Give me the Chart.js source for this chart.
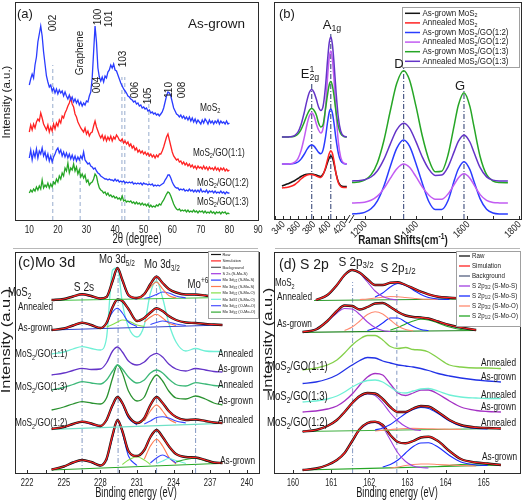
<!DOCTYPE html>
<html>
<head>
<meta charset="utf-8">
<title>MoS2 / GO characterisation</title>
<script src="https://cdn.jsdelivr.net/npm/chart.js@4.4.1/dist/chart.umd.min.js"></script>
<style>
  html, body { margin: 0; padding: 0; background: #fff; }
  #wrap { position: relative; width: 524px; height: 503px; overflow: hidden; background: #fff; }
  #wrap canvas { position: absolute; }
</style>
</head>
<body>
<div id="wrap">
  <canvas id="xrd" width="270" height="250" style="left:0;top:0"></canvas>
  <canvas id="ramanLow" width="262" height="250" style="left:262px;top:0"></canvas>
  <canvas id="ramanHigh" width="262" height="250" style="left:262px;top:0"></canvas>
  <canvas id="mo3d" width="270" height="253" style="left:0;top:250px"></canvas>
  <canvas id="s2p" width="262" height="253" style="left:262px;top:250px"></canvas>
</div>
<script>
// ---------- (a) XRD, intensities every 0.5 deg from 10 to 80 ----------
const xrdStart = 10, xrdStep = 0.5;
const xrdMoS2 = [
  135,141,146,142,155,163,178,186,194,184, 168,156,144,138,133,135,129,132,127,131,
  126,130,127,129,124,128,124,121,125,120, 123,118,121,117,120,115,118,114,117,115,
  119,118,124,128,142,168,194,178,152,143, 139,143,138,144,142,148,150,155,152,156,
  150,149,145,141,137,134,131,129,127,124, 123,121,120,118,119,116,117,114,115,112,
  113,111,112,109,110,107,108,106,107,105, 106,104,106,108,112,118,124,128,127,124,
  118,112,109,106,105,103,105,102,104,101, 103,100,103,99,102,98,101,97,100,98,
  96,100,97,101,99,96,100,97,99,96, 99,97,100,96,99,97,98,96,99,96, 97];
const xrdGO11 = [
  88,95,90,96,92,98,101,99,107,102, 96,93,90,95,88,93,89,96,91,97,
  94,100,97,104,102,107,110,114,117,122, 116,113,106,103,98,95,92,90,88,92,
  86,89,84,87,88,94,99,93,89,85, 82,85,80,84,79,83,80,84,79,83,
  81,85,83,80,79,81,77,79,76,78, 74,76,72,74,70,72,68,70,67,69,
  66,68,65,67,64,66,63,65,62,65, 63,66,66,69,73,78,83,86,80,74,
  68,64,62,60,61,58,59,56,58,55, 57,54,56,53,55,52,54,51,54,52,
  53,51,54,51,53,50,53,51,52,50, 53,50,52,49,52,50,52,49,51,49, 50];
const xrdGO12 = [
  62,70,60,68,63,71,62,69,66,72, 64,68,61,66,59,64,58,63,66,70,
  72,67,70,64,68,63,67,62,66,61, 65,60,64,59,63,60,64,61,68,60,
  58,56,57,54,53,51,52,49,47,46, 44,43,42,41,41,40,41,40,40,39,
  41,39,40,38,39,38,39,37,38,37, 38,37,38,36,37,36,37,36,37,35,
  37,36,36,35,36,35,36,34,35,34, 35,34,35,36,37,40,42,45,45,42,
  38,35,33,32,32,30,31,30,31,29, 30,29,31,29,30,28,30,28,30,28,
  31,28,29,28,30,27,29,28,29,27, 29,27,28,27,29,27,28,26,28,27, 27];
const xrdGO13 = [
  27,30,28,31,29,33,30,34,31,40, 32,35,33,37,32,36,33,38,36,41,
  38,44,41,47,44,52,49,57,47,52, 50,56,49,53,46,50,43,46,42,45,
  38,40,35,37,38,41,46,44,37,32, 30,29,27,28,25,27,24,25,23,24,
  22,23,21,22,20,24,19,20,18,19, 18,19,17,18,16,18,16,17,15,17,
  15,16,14,16,13,15,13,14,13,15, 14,16,15,18,20,23,26,28,27,24,
  20,16,13,11,10,11,9,10,9,10, 8,10,8,9,8,10,8,9,7,9,
  8,9,7,9,7,8,7,9,7,8, 6,8,7,8,6,8,7,8,6,7, 6];
const xrdRefTheta = [18.2, 27.8, 42.4, 43.4, 51.8];
const xrdRefTop = [155, 63, 143, 143, 127];

// ---------- (b) Raman ----------
const ramanLowX = [339,344,348,352,356,360,364,368,372,375,378,381,384,387,390,393,396,399,401,403,405,407,410,413,416,420,424];
const lowAsMoS2 = [33,34.5,35.5,37,38.5,40.5,42.5,44,44.8,45,45,44.6,44,43,42.5,45,50,57,61,63,61.5,56,45,37,33.5,32.5,32.5];
const lowAnMoS2 = [31,31.5,32,33,34.5,37,40,42.5,44,44.5,44.5,44,43,42,41.5,44.5,51,60,65.5,68.3,66,59,45,36,32.5,31.5,31.5];
const lowAsGO12 = [55,55,55,55.2,55.7,57,59.9,64.5,69.8,72.9,74,72.9,69.9,66.6,65.3,69.4,81.3,98,106.7,109.9,106.3,97.1,79.3,65.4,58.3,55.5,55];
const lowAnGO12 = [55,55,55.1,55.5,56.8,60.4,68.2,80.7,95,103.2,106.3,103.3,95.3,89,86,91,110.4,143.9,161.4,168,160.4,141.7,105,76.3,61.9,55.9,55.1];
const lowAsGO13 = [82,82,82.1,82.3,83,85,89.4,96.3,104.2,108.8,110.5,108.8,104.3,96,92,94.5,109.5,125.7,134.2,137.4,133.7,124.5,106.5,92.5,85.4,82.5,82];
const lowAnGO13 = [82,82,82.1,82.4,83.7,87,94.3,105.8,119.1,126.7,129.5,126.7,120,112,108.5,113,132,160.8,176.3,182.1,175.4,158.7,126.3,100.9,88.1,82.8,82.1];
const ramanHighX = [1151,1175,1200,1225,1250,1275,1300,1325,1352,1375,1400,1425,1450,1475,1500,1525,1550,1565,1587,1610,1625,1650,1675,1700,1725,1758];
const highAsGO12 = [5.1,5.4,6.6,10.2,18.2,32.8,52.4,70.6,79,72.8,55.5,35.6,17.5,9.5,9.5,18.5,39.2,50,57.3,49.4,38.3,20.1,9.7,6,5.1,5];
const highAnGO12 = [16,16.2,16.8,18.7,22.9,30.4,40.6,50.1,55,51.7,42.3,31.9,24,19.8,19.7,25.1,35,41.1,45.2,40.8,34.6,24.4,18.6,16.5,16.1,16];
const highAsGO13 = [36.4,36.9,38.8,44.1,56.3,78.3,108,135.5,148.3,138.9,112.8,82.7,59.6,47.3,47.8,64.2,95.2,113.8,126.3,112.6,93.6,62.3,44.3,38,36.5,36.3];
const highAnGO13 = [38.1,38.3,39.3,42,48.3,59.6,74.9,89.1,95.7,90.9,77.4,61.9,49.9,43.6,43.9,52.2,68.1,77.6,84,77,67.3,51.3,42.1,38.9,38.1,38];
const ramanModeX = [378, 403, 1352, 1587];      // E2g, A1g, D, G
const ramanModeTop = [137, 187, 152, 129];

// ---------- (c) Mo 3d XPS ----------
const xc = [224,225,225.75,226.5,227.25,228,228.5,229,229.4,229.8,230.3,231,231.6,232.1,232.6,233.1,233.6,234.2,235,235.8,236.6,237.3,238];
const xcEnds = [224, 238];
const c1Raw = [173,174,176.5,178.7,177,174.5,176,192,205,193,178,175,179,189,196.3,190,184,180.5,178.5,178.5,177.5,176.5,176];
const c1Bg = [172.5, 175.5];
const c1S2s = [173.3,176.3,178.5,176.3,173.6];          // from 225
const c1Mo52 = [175,191,204.7,192,177,174];              // from 228.5
const c1Mo32 = [178,186,191,184,177.5,175];              // from 231.6
const c1Mo32b = [174.5,176,178.5,181,180,177,175];       // from 231.6
const c2Raw = [143,144.5,147.5,150.3,148,145,150,166,173.5,172,164,152,155,160.5,164.7,162,157,153,150.5,150,149,148.5,148];
const c2Bg = [143, 148];
const c2S2s = [144,147,150,147.5,145];                   // from 225
const c2Mo52 = [149,161,164.7,160,151,146.5];            // from 228.5
const c2Mo52O = [146,148.5,151,153,152,148,146.5];       // from 228.5
const c2Mo32 = [151,156,158.7,155,150,147.5];            // from 231.6
const c2Mo32b = [148.5,150.5,152,151,149,147.5];         // from 232.1
const c3An11 = [119,121,124,126.3,124.5,123,135,203,205,170,146,136,148,180,192,175,150,131,122,124.5,122,121.5,121.5];
const c4As11 = [98,100,102.5,104.7,103.5,104,110,122,126,121,112,108,111,117,119.7,116,109,104,102,104.5,103,101.5,101];
const c5An13 = [83,85.5,88.5,91.3,90,89,93,102,108,104,96,90,93,100,103,100,94,88.5,87,90.3,89,87.5,87];
const c6As13 = [63,66,69,71.3,70,69,75,95,108,100,82,72,76,90,98,92,82,75,74,77,74,70,68];
const c7Raw = [44,46,49,51.3,49.5,47,53,68,76,70,57,50,55,68,76,70,62,56,53,53.5,52,50.5,50];
const c7Bg = [43.7, 49.7];
const c7S2s = [45.5,48.5,51,48.5,46];                    // from 225
const c7Mo52 = [52,67,75.5,69,55,48];                    // from 228.5
const c7Mo32 = [52,62,68,62,54,50];                      // from 231.6
const c7Mo32b = [49,52,55.5,56.3,55,52,50];              // from 231.6
const c8Raw = [3.5,6.5,10.5,13,11,7.5,14,38,53,42,22,17,23,36,43,36,27,19,16,15.5,13,10.5,10];
const c8Bg = [3, 9.7];
const c8S2s = [6,10,12.8,10.5,6.5];                      // from 225
const c8Mo52 = [12,36,52.5,40,17,7.5];                   // from 228.5
const c8Mo52O = [8.5,13,16.3,13,8.5];                    // from 229.8
const c8Mo32 = [14,27,33.7,27,16,9];                     // from 231.6
const c8Mo32b = [10,15,18,15,10];                        // from 232.1
const c8Mo32O = [9.5,12,14.5,12.5,9.5];                  // from 232.6
const c8Mo6 = [11,13.5,14.7,12,10];                      // from 234.2
const moLineX = [226.5, 229.45, 232.6, 235.8];
const moLineTop = [179.7, 206, 198, 184.7];

// ---------- (d) S 2p XPS ----------
const xd = [160.25,160.6,160.9,161.15,161.35,161.55,161.75,161.95,162.15,162.35,162.55,162.75,162.95,163.15,163.35,163.55,163.8,164.1,164.4,164.8,165.1,165.45];
const d1Raw = [173,178,188,198,203,200.3,193.7,188,188,190.3,190.7,188,184.7,181.3,178.7,176.3,175.3,174.7]; // from 160.6
const d1BgX = [160.55, 164.6], d1Bg = [172.5, 174];
const d1S32 = [173,177.5,187.5,197.5,203,199.5,191,182,176.5,174,173];              // from 160.6
const d1S12 = [176,180,186,189.5,187.5,183,178.5,175.5,174,173.5];                  // from 162.15
const d1O = [173.5,174,175,175.8,176.5,176.2,175.5,174.8,174,173.7,173.5];           // from 161.75
const d2Raw = [141,143.5,152,162,167.5,167,163.5,166,169.5,170,166,161,157.5,156,155.5,154.5,151.5,148,145.5,143];
const d2BgX = [160.25, 164.8], d2Bg = [140.7, 142.5];
const d2S32 = [141,144,151.5,160,164.5,164,158.5,151,145.5,142.5,141.5];            // from 160.25
const d2O32 = [142.5,146,152,158.5,161.3,159,153,147,143.5,142];                    // from 161.35
const d2S12 = [142.5,145,150,155,155,151,146.5,143.5,142.5];                        // from 161.95
const d2O12 = [143,145.5,149,152,153.7,153,150,146,143.5,142.5];                    // from 162.55
const d3An11 = [103,105,108,113,120,128,134,137.5,137.5,133,126.5,124.5,125.5,123.5,123,121,115,108,106,105,105,104.5];
const d4As11 = [89.5,91,94,98,103,108,112.5,115.5,115,112,110,108,107,106,104.5,102.5,99.5,97,95,93,92,91];
const d5An13 = [71,72,74,77,81,86,90,92.5,93,91,86,81,80,82,84,84.5,82,78,76,75,74.5,74.5];
const d6As13 = [61,62,64,67,72,79,88,96,99.5,98,89,80,77.5,80,83,83,79,72,66,62.5,61.5,61];
const d7Raw = [41.5,43,47,53,61,70,77,80,79.5,74,66,61,61,64.5,67,66.5,61,53,48,45.5,45,44.5];
const dEnds = [160.25, 165.45];
const d7Bg = [41.5, 44.5];
const d7S32 = [41.5,43,47,53,61,69.5,76,79,77.5,70,60,52,46.5,43.5,42.5];           // from 160.25
const d7S12 = [43,45,48.5,54,59.5,63.5,65.5,64.5,59.5,52,47,44.5,44];               // from 162.15
const d7O = [42,42.8,43.5,44,44.5,44.6,44.5,44.3,44,43.8,43.5];                     // from 162.15
const d8Raw = [3,4.5,8,13,20,32,44,50,51.3,48,38,31,29.7,32,35.5,36.3,32,22,14,10.5,9.5,8];
const d8Bg = [3, 8];
const d8S32 = [3,4.5,8,13,20,31.5,43,49,50.5,45.5,33,20,11.5,7,5.5,5];              // from 160.25
const d8S12 = [6,8.5,13,20,26.5,30,30.3,26,17.5,11,8,7.5];                          // from 162.35
const d8O32 = [5,6,7.5,8.5,9,9,8.5,8,7.5,7];                                        // from 162.55
const d8O12 = [6.5,7.5,8.5,9,8.5,8];                                                // from 163.8
const sLineX = [161.56, 162.72];
const sLineTop = [191, 183];

// ---------- colours ----------
const BLACK = '#141414', RED = '#ff2222', BLUE = '#2a3cff', GREEN = '#26a626';
const LPURPLE = '#c25cf2', DPURPLE = '#6434c8';
const PURPLE = '#a238e0', ORANGE = '#ff7a50', LGREEN = '#86e04a', CYAN = '#6ff0d6', TEAL = '#3cb878';

const FAM = "'Liberation Sans', Arial, sans-serif";
Chart.defaults.font.family = FAM;
Chart.defaults.color = '#222';

// ---------- helpers ----------
function pts(xs, ys) {
  const out = [];
  ys.forEach((y, i) => { if (y !== null) out.push({ x: xs[i], y }); });
  return out;
}
function seg(xs, from, ys) {
  const i0 = xs.indexOf(from);
  return ys.map((y, k) => ({ x: xs[i0 + k], y }));
}
function line(data, color, width, extra) {
  return Object.assign({ data, borderColor: color, borderWidth: width, pointRadius: 0,
    fill: false, tension: 0, cubicInterpolationMode: 'monotone' }, extra || {});
}
function vlines(xs, tops, color, dash, width) {
  return xs.map((x, i) => line([{ x, y: 0 }, { x, y: tops[i] }], color, width || 1,
    { borderDash: dash, cubicInterpolationMode: 'default' }));
}

// text with _{sub} and ^{sup}; sq squeezes the glyphs across the reading direction
function rich(ctx, o) {
  const size = o.s || 11, sq = o.sq || 1;
  const parts = [];
  const re = /([_^])\{([^}]*)\}|([^_^]+)/g;
  let m;
  while ((m = re.exec(o.t))) {
    parts.push(m[3] !== undefined ? { t: m[3], k: 0 } : { t: m[2], k: m[1] === '_' ? 1 : 2 });
  }
  const fnt = k => (o.b ? 'bold ' : '') + (k ? size * 0.68 : size) + 'px ' + FAM;
  const pos = [];
  let cur = 0;
  parts.forEach((p, i) => {
    ctx.font = fnt(p.k);
    const w = ctx.measureText(p.t).width;
    const prev = parts[i - 1];
    if (p.k && prev && prev.k && prev.k !== p.k) {
      pos.push(pos[i - 1]);
      cur = Math.max(cur, pos[i - 1] + w);
    } else {
      pos.push(cur);
      cur += w;
    }
  });
  const start = o.a === 'center' ? -cur / 2 : o.a === 'right' ? -cur : 0;
  ctx.save();
  ctx.translate(o.x, o.y);
  if (o.r) ctx.rotate(o.r * Math.PI / 180);
  if (o.r === -90) ctx.scale(1, sq); else ctx.scale(sq, 1);
  ctx.fillStyle = o.c || '#1a1a1a';
  ctx.textBaseline = 'middle';
  ctx.textAlign = 'left';
  parts.forEach((p, i) => {
    ctx.font = fnt(p.k);
    const dy = p.k === 1 ? size * 0.3 : p.k === 2 ? -size * 0.36 : 0;
    ctx.fillText(p.t, start + pos[i], dy);
  });
  ctx.restore();
}
function frame(ctx, l, t, r, b) {
  ctx.save();
  ctx.strokeStyle = '#2b2b2b';
  ctx.lineWidth = 1;
  ctx.strokeRect(l + 0.5, t + 0.5, r - l, b - t);
  ctx.restore();
}
function hline(ctx, x0, x1, y, color) {
  ctx.save();
  ctx.strokeStyle = color;
  ctx.lineWidth = 1;
  ctx.beginPath();
  ctx.moveTo(x0, y + 0.5);
  ctx.lineTo(x1, y + 0.5);
  ctx.stroke();
  ctx.restore();
}
// tick marks pointing into the plot, and tick labels, both placed by the chart's x scale
function innerTicks(chart, len) {
  const s = chart.scales.x, y0 = chart.chartArea.bottom, ctx = chart.ctx;
  ctx.save();
  ctx.strokeStyle = '#2b2b2b';
  ctx.lineWidth = 1;
  ctx.beginPath();
  s.ticks.forEach(t => {
    const px = Math.round(s.getPixelForValue(t.value)) + 0.5;
    ctx.moveTo(px, y0);
    ctx.lineTo(px, y0 - len);
  });
  ctx.stroke();
  ctx.restore();
}
function tickLabels(chart, cfg) {
  const s = chart.scales.x, T = cfg.tickText;
  s.ticks.forEach(t => {
    const label = (cfg.label || String)(t.value);
    if (!label) return;
    const px = s.getPixelForValue(t.value);
    if (T.rot) rich(chart.ctx, { t: label, x: px + 1, y: T.y, s: T.s, sq: T.sq, a: 'right', r: -T.rot, c: '#222' });
    else rich(chart.ctx, { t: label, x: px, y: T.y, s: T.s, sq: T.sq, a: 'center', c: '#222' });
  });
}
function legendBox(ctx, L) {
  ctx.save();
  ctx.fillStyle = '#fff';
  ctx.fillRect(L.x, L.y, L.w, L.h);
  ctx.strokeStyle = '#a0a0a0';
  ctx.lineWidth = 1;
  ctx.strokeRect(L.x + 0.5, L.y + 0.5, L.w, L.h);
  L.rows.forEach(([label, color], i) => {
    const y = L.y0 + i * L.dy;
    ctx.strokeStyle = color;
    ctx.lineWidth = L.lw;
    ctx.beginPath();
    ctx.moveTo(L.l0, y);
    ctx.lineTo(L.l1, y);
    ctx.stroke();
    rich(ctx, { t: label, x: L.tx, y, s: L.s, sq: L.sq });
  });
  ctx.restore();
}

function makeChart(id, cfg) {
  return new Chart(document.getElementById(id), {
    type: 'line',
    data: { datasets: cfg.datasets.slice().reverse() },
    options: {
      responsive: false,
      animation: false,
      events: [],
      devicePixelRatio: 1,
      layout: { padding: cfg.pad },
      plugins: { legend: { display: false }, tooltip: { enabled: false } },
      scales: {
        x: {
          type: 'linear',
          min: cfg.xmin,
          max: cfg.xmax,
          grid: { display: false, drawTicks: false },
          border: { display: false },
          ticks: { stepSize: cfg.step, includeBounds: false, autoSkip: false, display: false },
          title: { display: false },
          afterFit: s => { s.height = cfg.axisH; s.paddingLeft = 0; s.paddingRight = 0; }
        },
        y: { display: false, min: 0, max: cfg.ymax }
      }
    },
    plugins: [{ id: 'decor', afterDraw: c => {
      if (cfg.tickText) tickLabels(c, cfg);
      if (cfg.decor) cfg.decor(c.ctx, c);
    } }]
  });
}

// ---------- (a) ----------
const xrdTheta = xrdMoS2.map((_, i) => xrdStart + i * xrdStep);
const xrdTexts = [
  { t: '(a)', x: 17, y: 14, s: 13 },
  { t: 'As-grown', x: 188, y: 24, s: 13.5 },
  { t: '002', x: 53, y: 23, s: 10, a: 'center', r: -90 },
  { t: 'Graphene', x: 80, y: 53, s: 10, a: 'center', r: -90 },
  { t: '100', x: 98, y: 17, s: 10, a: 'center', r: -90 },
  { t: '101', x: 109, y: 19, s: 10, a: 'center', r: -90 },
  { t: '004', x: 97, y: 85, s: 10, a: 'center', r: -90 },
  { t: '103', x: 123, y: 59, s: 10, a: 'center', r: -90 },
  { t: '006', x: 135, y: 90, s: 10, a: 'center', r: -90 },
  { t: '105', x: 148, y: 96, s: 10, a: 'center', r: -90 },
  { t: '110', x: 169, y: 90, s: 10, a: 'center', r: -90 },
  { t: '008', x: 182, y: 90, s: 10, a: 'center', r: -90 },
  { t: 'MoS_{2}', x: 200, y: 108, s: 10.5, sq: 0.8 },
  { t: 'MoS_{2}/GO(1:1)', x: 193, y: 153, s: 10.5, sq: 0.78 },
  { t: 'MoS_{2}/GO(1:2)', x: 197, y: 183, s: 10.5, sq: 0.78 },
  { t: 'MoS_{2}/GO(1:3)', x: 197, y: 202, s: 10.5, sq: 0.78 },
  { t: 'Intensity (a.u.)', x: 7, y: 102, s: 11.5, a: 'center', r: -90 },
  { t: '2θ (degree)', x: 137, y: 239.5, s: 14, a: 'center', sq: 0.68 }
];
makeChart('xrd', {
  datasets: [
    ...vlines(xrdRefTheta, xrdRefTop, '#a9bad6', [4, 3], 1.2),
    line(pts(xrdTheta, xrdGO13), GREEN, 1.3, { cubicInterpolationMode: 'default' }),
    line(pts(xrdTheta, xrdGO12), BLUE, 1.3, { cubicInterpolationMode: 'default' }),
    line(pts(xrdTheta, xrdGO11), RED, 1.3, { cubicInterpolationMode: 'default' }),
    line(pts(xrdTheta, xrdMoS2), BLUE, 1.3, { cubicInterpolationMode: 'default' })
  ],
  pad: { left: 15, right: 12, top: 2, bottom: 0 },
  xmin: 5, xmax: 90, step: 10, ymax: 218, axisH: 30,
  tickText: { y: 229.5, s: 11.5, sq: 0.72 },
  decor: ctx => {
    frame(ctx, 15, 2, 258, 220);
    hline(ctx, 13, 258, 248, '#b8b8b8');
    xrdTexts.forEach(o => rich(ctx, o));
  }
});

// ---------- (b) ----------
makeChart('ramanLow', {
  datasets: [
    ...vlines(ramanModeX.slice(0, 2), ramanModeTop.slice(0, 2), '#4c5a86', [5, 2, 1, 2], 1.2),
    line(pts(ramanLowX, lowAsMoS2), BLACK, 1.5),
    line(pts(ramanLowX, lowAnMoS2), RED, 1.5),
    line(pts(ramanLowX, lowAsGO12), BLUE, 1.5),
    line(pts(ramanLowX, lowAnGO12), LPURPLE, 1.5),
    line(pts(ramanLowX, lowAsGO13), GREEN, 1.5),
    line(pts(ramanLowX, lowAnGO13), DPURPLE, 1.5)
  ],
  pad: { left: 12, right: 174, top: 2, bottom: 0 },
  xmin: 328.6, xmax: 428.2, step: 10, ymax: 217, axisH: 31,
  label: v => (v % 20 === 0 ? String(v) : ''),
  tickText: { y: 223, s: 10, sq: 0.85, rot: 45 },
  decor: (ctx, c) => innerTicks(c, 3)
});
const ramanTexts = [
  { t: '(b)', x: 17, y: 14, s: 13 },
  { t: 'E^{1}_{2g}', x: 48, y: 74, s: 13, a: 'center' },
  { t: 'A_{1g}', x: 70, y: 25, s: 13, a: 'center' },
  { t: 'D', x: 137, y: 64, s: 13, a: 'center' },
  { t: 'G', x: 198, y: 86, s: 13, a: 'center' },
  { t: 'Raman Shifts(cm^{-1})', x: 141, y: 241, s: 12, a: 'center', b: true, sq: 0.82 }
];
makeChart('ramanHigh', {
  datasets: [
    ...vlines(ramanModeX.slice(2), ramanModeTop.slice(2), '#4c5a86', [5, 2, 1, 2], 1.2),
    line(pts(ramanHighX, highAsGO12), BLUE, 1.5),
    line(pts(ramanHighX, highAnGO12), LPURPLE, 1.5),
    line(pts(ramanHighX, highAsGO13), GREEN, 1.5),
    line(pts(ramanHighX, highAnGO13), DPURPLE, 1.5)
  ],
  pad: { left: 90, right: 3, top: 2, bottom: 0 },
  xmin: 1151, xmax: 1809, step: 100, ymax: 217, axisH: 31,
  label: v => (v % 200 === 0 ? String(v) : ''),
  tickText: { y: 223, s: 10, sq: 0.85, rot: 45 },
  decor: (ctx, c) => {
    innerTicks(c, 3);
    frame(ctx, 12, 2, 259, 219);
    ctx.save();
    ctx.fillStyle = '#fff';
    ctx.fillRect(86, 217, 6, 5);
    ctx.strokeStyle = '#2b2b2b';
    ctx.lineWidth = 1;
    ctx.beginPath();
    ctx.moveTo(83, 223); ctx.lineTo(88, 215);
    ctx.moveTo(87, 223); ctx.lineTo(92, 215);
    ctx.stroke();
    ctx.restore();
    hline(ctx, 13, 258, 248, '#b8b8b8');
    legendBox(ctx, {
      x: 140, y: 7, w: 117, h: 60, y0: 13.3, dy: 9.6, l0: 143, l1: 158, tx: 160.5, s: 8.2, sq: 0.97, lw: 1.5,
      rows: [['As-grown MoS_{2}', BLACK], ['Annealed MoS_{2}', RED], ['As-grown MoS_{2}/GO(1:2)', BLUE],
             ['Annealed MoS_{2}/GO(1:2)', LPURPLE], ['As-grown MoS_{2}/GO(1:3)', GREEN], ['Annealed MoS_{2}/GO(1:3)', DPURPLE]]
    });
    ramanTexts.forEach(o => rich(ctx, o));
  }
});

// ---------- (c) ----------
function fitted(raw, bgX, bg, bgColor, comps) {
  return [
    line(pts(bgX, bg), bgColor, 1.2),
    ...comps.map(([data, color]) => line(data, color, 1.1)),
    line(pts(raw.xs, raw.ys), BLACK, 2.4),
    line(pts(raw.xs, raw.ys), RED, 1.2)
  ];
}
const moTexts = [
  { t: '(c)Mo 3d', x: 18, y: 13, s: 14.5 },
  { t: 'Mo 3d_{5/2}', x: 117, y: 10, s: 12, a: 'center', sq: 0.8 },
  { t: 'Mo 3d_{3/2}', x: 162, y: 15, s: 12, a: 'center', sq: 0.8 },
  { t: 'Mo^{+6}', x: 198, y: 35, s: 12, a: 'center', sq: 0.8 },
  { t: 'S 2s', x: 84, y: 38, s: 12, a: 'center', sq: 0.85 },
  { t: 'MoS_{2}', x: 8, y: 43, s: 12, sq: 0.8 },
  { t: 'Annealed', x: 18, y: 57, s: 11.5, sq: 0.72 },
  { t: 'As-grown', x: 18, y: 78, s: 11.5, sq: 0.72 },
  { t: 'MoS_{2}/GO(1:1)', x: 15, y: 104, s: 11.5, sq: 0.72 },
  { t: 'MoS_{2}/GO(1:3)', x: 15, y: 137, s: 11.5, sq: 0.72 },
  { t: 'MoS_{2}/GO(1:2)', x: 15, y: 173, s: 11.5, sq: 0.72 },
  { t: 'Annealed', x: 253, y: 104, s: 11.5, a: 'right', sq: 0.72 },
  { t: 'As-grown', x: 253, y: 119, s: 11.5, a: 'right', sq: 0.72 },
  { t: 'Annealed', x: 253, y: 135, s: 11.5, a: 'right', sq: 0.72 },
  { t: 'As-grown', x: 253, y: 151, s: 11.5, a: 'right', sq: 0.72 },
  { t: 'Annealed', x: 253, y: 170, s: 11.5, a: 'right', sq: 0.72 },
  { t: 'As-grown', x: 255, y: 211, s: 11.5, a: 'right', sq: 0.72 },
  { t: 'Intensity (a.u.)', x: 7, y: 91, s: 16.5, a: 'center', r: -90, sq: 0.75 },
  { t: 'Binding energy (eV)', x: 136, y: 243, s: 14, a: 'center', sq: 0.66 }
];
makeChart('mo3d', {
  datasets: [
    ...vlines(moLineX, moLineTop, '#8fa2c8', [5, 2, 1, 2], 1.1),
    ...fitted({ xs: xc, ys: c8Raw }, xcEnds, c8Bg, GREEN, [
      [seg(xc, 225, c8S2s), PURPLE], [seg(xc, 228.5, c8Mo52), BLUE], [seg(xc, 229.8, c8Mo52O), LGREEN],
      [seg(xc, 231.6, c8Mo32), ORANGE], [seg(xc, 232.1, c8Mo32b), '#3a48ff'], [seg(xc, 232.6, c8Mo32O), CYAN],
      [seg(xc, 234.2, c8Mo6), '#33aa33']]),
    ...fitted({ xs: xc, ys: c7Raw }, xcEnds, c7Bg, '#6fe0c6', [
      [seg(xc, 225, c7S2s), PURPLE], [seg(xc, 228.5, c7Mo52), BLUE], [seg(xc, 231.6, c7Mo32), ORANGE],
      [seg(xc, 231.6, c7Mo32b), '#3a48ff']]),
    line(pts(xc, c6As13), '#2a9230', 1.3),
    line(pts(xc, c5An13), TEAL, 1.3),
    line(pts(xc, c4As11), DPURPLE, 1.3),
    line(pts(xc, c3An11), CYAN, 1.3),
    ...fitted({ xs: xc, ys: c2Raw }, xcEnds, c2Bg, '#3444cc', [
      [seg(xc, 225, c2S2s), PURPLE], [seg(xc, 228.5, c2Mo52O), LGREEN], [seg(xc, 228.5, c2Mo52), BLUE],
      [seg(xc, 231.6, c2Mo32), ORANGE], [seg(xc, 232.1, c2Mo32b), '#3a48ff']]),
    ...fitted({ xs: xc, ys: c1Raw }, xcEnds, c1Bg, '#40c040', [
      [seg(xc, 225, c1S2s), PURPLE], [seg(xc, 228.5, c1Mo52), BLUE], [seg(xc, 231.6, c1Mo32b), '#3a48ff'],
      [seg(xc, 231.6, c1Mo32), ORANGE]])
  ],
  pad: { left: 15, right: 11, top: 2, bottom: 0 },
  xmin: 221, xmax: 241, step: 1.5, ymax: 221, axisH: 30,
  label: v => (Math.abs(v / 3 - Math.round(v / 3)) < 1e-6 ? String(Math.round(v)) : ''),
  tickText: { y: 233, s: 11.5, sq: 0.66 },
  decor: (ctx, c) => {
    innerTicks(c, 3);
    frame(ctx, 15, 2, 259, 223);
    legendBox(ctx, {
      x: 208, y: 1, w: 50, h: 67, y0: 4.5, dy: 6.4, l0: 211, l1: 221, tx: 222.5, s: 4.4, sq: 0.9, lw: 1.2,
      rows: [['Raw', BLACK], ['Simulation', RED], ['Background', '#555'], ['S 2s (S-Mo-S)', PURPLE],
             ['Mo 3d_{5/2} (S-Mo-S)', BLUE], ['Mo 3d_{3/2} (S-Mo-S)', ORANGE], ['Mo 3d_{5/2} (S-Mo-O)', LGREEN],
             ['Mo 3d_{3/2} (S-Mo-O)', CYAN], ['Mo 3d_{5/2} (O-Mo-O)', '#4a50ff'], ['Mo 3d_{3/2} (O-Mo-O)', '#33aa33']]
    });
    moTexts.forEach(o => rich(ctx, o));
  }
});

// ---------- (d) ----------
const sTexts = [
  { t: '(d) S 2p', x: 17, y: 15, s: 14 },
  { t: 'S 2p_{3/2}', x: 94, y: 12, s: 13, a: 'center', sq: 0.9 },
  { t: 'S 2p_{1/2}', x: 136, y: 18, s: 13, a: 'center', sq: 0.9 },
  { t: 'MoS_{2}', x: 13, y: 33, s: 11.5, sq: 0.7 },
  { t: 'Annealed', x: 15, y: 47, s: 11.5, sq: 0.72 },
  { t: 'As-grown', x: 15, y: 74, s: 11.5, sq: 0.72 },
  { t: 'MoS_{2}/GO(1:1)', x: 5, y: 117, s: 12, sq: 0.8 },
  { t: 'MoS_{2}/GO(1:3)', x: 5, y: 147, s: 12, sq: 0.8 },
  { t: 'MoS_{2}/GO(1:2)', x: 5, y: 173, s: 12, sq: 0.8 },
  { t: 'Annealed', x: 254, y: 113, s: 11.5, a: 'right', sq: 0.72 },
  { t: 'As-grown', x: 254, y: 127, s: 11.5, a: 'right', sq: 0.72 },
  { t: 'Annealed', x: 254, y: 145, s: 11.5, a: 'right', sq: 0.72 },
  { t: 'As-grown', x: 254, y: 157, s: 11.5, a: 'right', sq: 0.72 },
  { t: 'Annealed', x: 254, y: 173, s: 11.5, a: 'right', sq: 0.72 },
  { t: 'As-grown', x: 255, y: 207, s: 11.5, a: 'right', sq: 0.72 },
  { t: 'Intensity (a.u.)', x: 7, y: 90, s: 16.5, a: 'center', r: -90, sq: 0.75 },
  { t: 'Binding energy (eV)', x: 135, y: 243, s: 14, a: 'center', sq: 0.66 }
];
const SPURPLE = '#a040e0', SBLUE = '#1a2cff', SORANGE = '#ff8a70';
makeChart('s2p', {
  datasets: [
    line([{ x: sLineX[0], y: 0 }, { x: sLineX[0], y: sLineTop[0] }], '#8fa2c8', 1.1, { borderDash: [5, 2, 1, 2] }),
    line([{ x: sLineX[1], y: 0 }, { x: sLineX[1], y: sLineTop[1] }], '#8fa2c8', 1.1, { borderDash: [4, 3] }),
    ...fitted({ xs: xd, ys: d8Raw }, dEnds, d8Bg, GREEN, [
      [seg(xd, 163.8, d8O12), GREEN], [seg(xd, 162.55, d8O32), SORANGE],
      [seg(xd, 162.35, d8S12), SBLUE], [seg(xd, 160.25, d8S32), SPURPLE]]),
    ...fitted({ xs: xd, ys: d7Raw }, dEnds, d7Bg, '#3fae3f', [
      [seg(xd, 162.15, d7O), SORANGE], [seg(xd, 162.15, d7S12), SBLUE], [seg(xd, 160.25, d7S32), SPURPLE]]),
    line(pts(xd, d6As13), '#a431c4', 1.3),
    line(pts(xd, d5An13), CYAN, 1.3),
    line(pts(xd, d4As11), '#2232e6', 1.3),
    line(pts(xd, d3An11), '#84d04a', 1.3),
    ...fitted({ xs: xd.slice(0, 20), ys: d2Raw }, d2BgX, d2Bg, '#2a8a2a', [
      [seg(xd, 162.55, d2O12), GREEN], [seg(xd, 161.95, d2S12), SBLUE],
      [seg(xd, 161.35, d2O32), SORANGE], [seg(xd, 160.25, d2S32), SPURPLE]]),
    ...fitted({ xs: xd.slice(1, 19), ys: d1Raw }, d1BgX, d1Bg, '#2a9a2a', [
      [seg(xd, 161.75, d1O), SORANGE], [seg(xd, 162.15, d1S12), SBLUE], [seg(xd, 160.6, d1S32), SPURPLE]])
  ],
  pad: { left: 12, right: 4, top: 2, bottom: 0 },
  xmin: 159.5, xmax: 165.95, step: 1, ymax: 221, axisH: 30,
  label: v => String(v),
  tickText: { y: 233, s: 11.5, sq: 0.62 },
  decor: (ctx, c) => {
    innerTicks(c, 3);
    frame(ctx, 12, 2, 258, 223);
    legendBox(ctx, {
      x: 194, y: 1, w: 64, h: 75, y0: 6, dy: 10, l0: 197, l1: 208, tx: 210, s: 6.5, sq: 0.95, lw: 1.3,
      rows: [['Raw', BLACK], ['Simulation', RED], ['Background', '#556080'], ['S 2p_{3/2} (S-Mo-S)', SPURPLE],
             ['S 2p_{1/2} (S-Mo-S)', SBLUE], ['S 2p_{3/2} (S-Mo-O)', SORANGE], ['S 2p_{1/2} (S-Mo-O)', GREEN]]
    });
    sTexts.forEach(o => rich(ctx, o));
  }
});
</script>
</body>
</html>
